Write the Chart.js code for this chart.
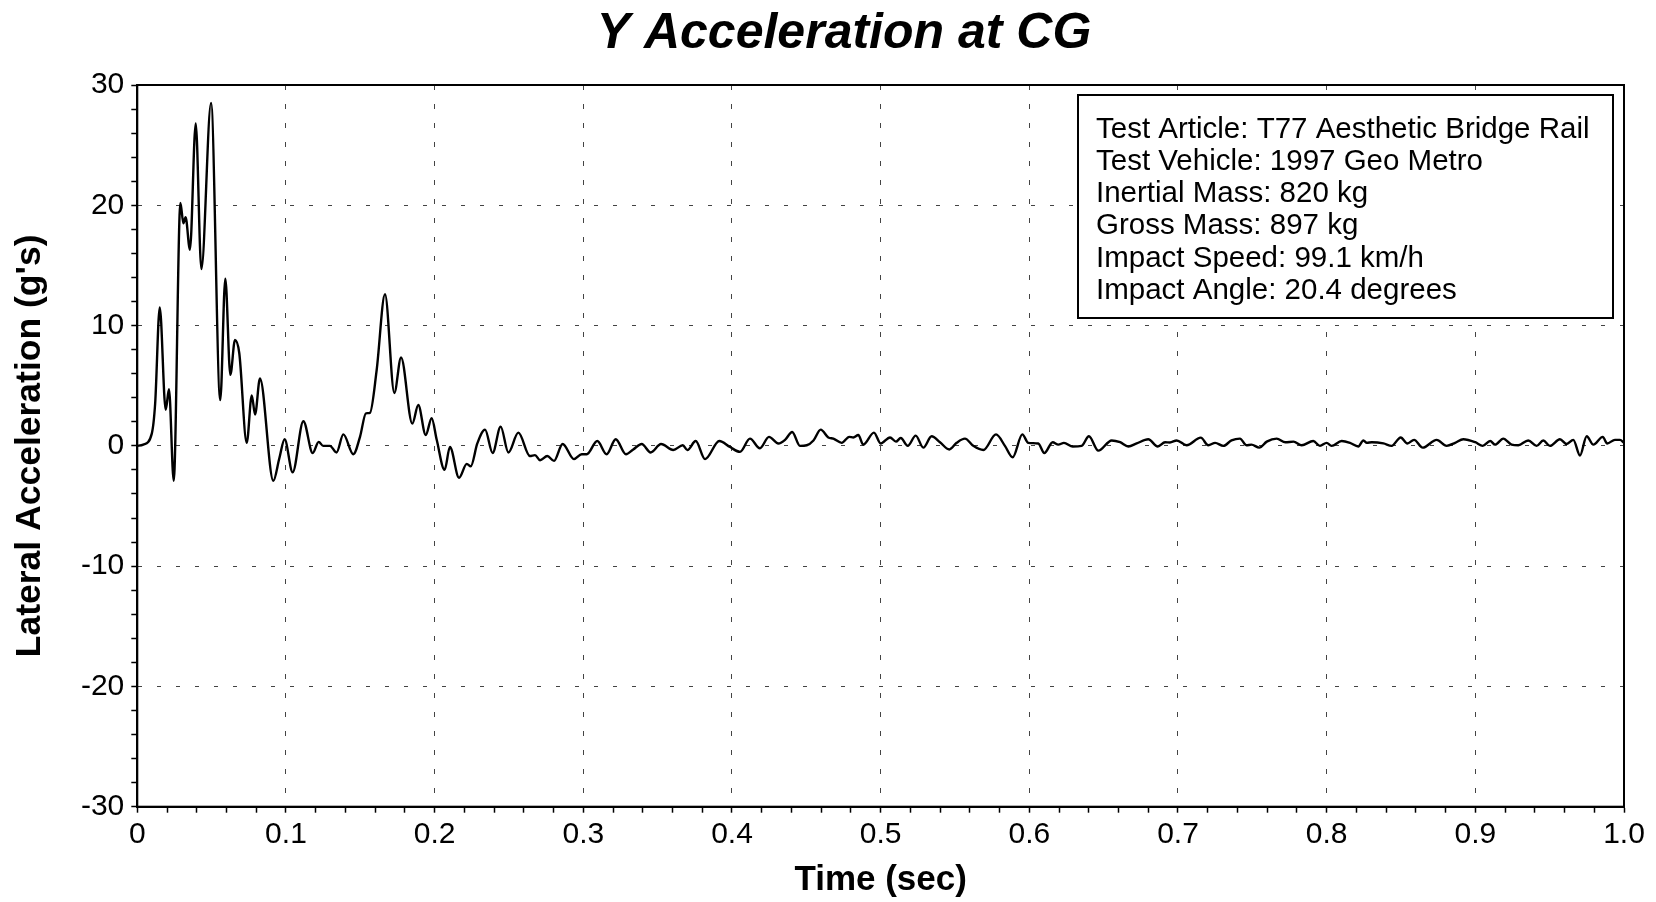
<!DOCTYPE html>
<html>
<head>
<meta charset="utf-8">
<title>Y Acceleration at CG</title>
<script src="https://cdn.jsdelivr.net/npm/chart.js@4.4.1/dist/chart.umd.min.js"></script>
<style>
    html, body { margin: 0; padding: 0; background: #ffffff; }
    #chart-wrap { width: 1656px; height: 902px; }
</style>
</head>
<body>
<div id="chart-wrap"><canvas id="accelChart" width="1656" height="902"></canvas></div>
<script>
// Time (sec) of each sample
const timeSec = [
    0, 0.004, 0.0097, 0.012, 0.0151, 0.0191, 0.0213, 0.0245, 0.029, 0.031,
    0.0325, 0.0354, 0.0393, 0.0431, 0.0496, 0.0558, 0.0592, 0.0626, 0.0657, 0.0686,
    0.0736, 0.077, 0.0792, 0.0825, 0.0915, 0.0955, 0.0991, 0.1045, 0.1117, 0.118,
    0.122, 0.125, 0.1296, 0.134, 0.1386, 0.1453, 0.1498, 0.1538, 0.1565, 0.161,
    0.1666, 0.1729, 0.1774, 0.185, 0.189, 0.194, 0.198, 0.2014, 0.2067, 0.2103,
    0.2164, 0.2216, 0.2243, 0.2287, 0.2339, 0.239, 0.2444, 0.2496, 0.2563, 0.2641,
    0.2675, 0.2709, 0.2758, 0.2803, 0.2861, 0.2937, 0.2989, 0.3023, 0.3094, 0.3157,
    0.3218, 0.3287, 0.3336, 0.3393, 0.3453, 0.3523, 0.3605, 0.3669, 0.37, 0.3756,
    0.3819, 0.3915, 0.3987, 0.4054, 0.4121, 0.4188, 0.4249, 0.4312, 0.4357, 0.4405,
    0.4457, 0.4503, 0.4548, 0.4597, 0.4648, 0.4682, 0.4738, 0.4789, 0.4816, 0.485,
    0.4883, 0.4955, 0.5, 0.5063, 0.5103, 0.5135, 0.5182, 0.5236, 0.5287, 0.5343,
    0.5399, 0.5462, 0.5511, 0.5567, 0.5623, 0.5691, 0.5776, 0.5836, 0.5888, 0.5953,
    0.5993, 0.606, 0.6101, 0.6157, 0.6195, 0.6233, 0.6292, 0.6352, 0.6401, 0.6464,
    0.6554, 0.6611, 0.6666, 0.6722, 0.68, 0.6864, 0.6913, 0.6946, 0.6991, 0.7058,
    0.7153, 0.7204, 0.725, 0.7305, 0.736, 0.7417, 0.746, 0.7494, 0.7547, 0.7597,
    0.7664, 0.7722, 0.7777, 0.7832, 0.791, 0.7955, 0.8, 0.8033, 0.8101, 0.8157,
    0.8213, 0.8247, 0.827, 0.8304, 0.8382, 0.8437, 0.8498, 0.8543, 0.8588, 0.8646,
    0.874, 0.8807, 0.8864, 0.8919, 0.9, 0.905, 0.91, 0.9133, 0.9188, 0.9244,
    0.9289, 0.9356, 0.9412, 0.9457, 0.9502, 0.9569, 0.9614, 0.9659, 0.9704, 0.9749,
    0.9794, 0.9857, 0.9887, 0.9939, 0.9973, 1.0
];

// Lateral acceleration (g's) at each sample
const accelG = [
    0, 0.1, 1.0, 3.5, 11.5, 3.0, 4.7, -2.9, 20.2, 18.5,
    19.0, 16.3, 26.8, 14.7, 28.5, 3.8, 13.9, 5.9, 8.8, 7.7,
    0.25, 4.2, 2.6, 5.6, -2.9, -1.05, 0.55, -2.2, 2.05, -0.6,
    0.33, 0, 0, -0.55, 0.95, -0.7, 0.75, 2.7, 2.75, 6.3,
    12.6, 4.4, 7.35, 1.85, 3.4, 0.9, 2.3, 0.5, -2.0, -0.1,
    -2.65, -1.5, -1.7, 0.2, 1.35, -0.6, 1.6, -0.55, 1.1, -0.85,
    -0.77, -1.2, -0.85, -1.25, 0.15, -1.1, -0.7, -0.7, 0.4, -0.7,
    0.55, -0.7, -0.3, 0.15, -0.55, 0.15, -0.35, 0.05, -0.35, 0.4,
    -1.1, 0.4, -0.1, -0.5, 0.6, -0.2, 0.75, 0.2, 0.5, 1.15,
    0, 0.05, 0.45, 1.35, 0.7, 0.6, 0.25, 0.75, 0.7, 0.9,
    0.1, 1.1, 0.2, 0.7, 0.35, 0.65, 0, 0.85, -0.15, 0.8,
    0.3, -0.3, 0.25, 0.6, 0, -0.35, 0.95, 0, -0.95, 0.95,
    0.25, 0.2, -0.6, 0.3, 0.1, 0.25, -0.05, 0, 0.8, -0.4,
    0.45, 0.3, -0.05, 0.2, 0.55, -0.05, 0.3, 0.28, 0.45, 0.05,
    0.68, 0.05, 0.25, 0, 0.45, 0.6, 0.05, 0.1, -0.15, 0.35,
    0.6, 0.3, 0.35, 0.05, 0.4, 0, 0.25, 0, 0.4, 0.25,
    -0.05, 0.45, 0.25, 0.3, 0.2, 0, 0.7, 0.2, 0.5, -0.15,
    0.5, 0, 0.25, 0.55, 0.3, 0, 0.4, 0.1, 0.6, 0.1,
    0.05, 0.45, 0, 0.45, 0, 0.55, 0.15, 0.5, -0.8, 0.8,
    0.1, 0.75, 0.2, 0.5, 0.5, 0.25
];

// Axis ticks: labelled majors, unlabelled minors in between
const xMajorTicks = [0, 0.1, 0.2, 0.3, 0.4, 0.5, 0.6, 0.7, 0.8, 0.9, 1.0];
const xTickLabels = ['0', '0.1', '0.2', '0.3', '0.4', '0.5', '0.6', '0.7', '0.8', '0.9', '1.0'];
const xMinorStep = 0.02;
const yMajorTicks = [-30, -20, -10, 0, 10, 20, 30];
const yTickLabels = ['-30', '-20', '-10', '0', '10', '20', '30'];
const yMinorStep = 2;

// Test details shown in the box
const testInfo = [
    'Test Article: T77 Aesthetic Bridge Rail',
    'Test Vehicle: 1997 Geo Metro',
    'Inertial Mass: 820 kg',
    'Gross Mass: 897 kg',
    'Impact Speed: 99.1 km/h',
    'Impact Angle: 20.4 degrees'
];

const FONT = "'Liberation Sans', Arial, Helvetica, sans-serif";

function tickIndex(list, value) {
    return list.findIndex(v => Math.abs(v - value) < 1e-9);
}

// builds major + minor tick objects between the first and last major
function buildTicks(majors, step) {
    const lo = majors[0];
    const hi = majors[majors.length - 1];
    const n = Math.round((hi - lo) / step);
    const ticks = [];
    for (let i = 0; i <= n; i++) {
        const v = Math.round((lo + i * step) * 1e6) / 1e6;
        ticks.push({ value: v, major: tickIndex(majors, v) >= 0 });
    }
    return ticks;
}

function isMajor(ctx) {
    return ctx.tick && ctx.tick.major;
}

// Frame around the plot and the test info box
const framePlugin = {
    id: 'frameAndInfo',
    afterDraw(chart) {
        const { ctx, chartArea: a } = chart;
        ctx.save();
        ctx.strokeStyle = '#000';
        ctx.lineWidth = 2;
        ctx.strokeRect(a.left, a.top, a.right - a.left, a.bottom - a.top);

        // info box in the upper right
        const boxW = 535, boxH = 223;
        const bx = a.right - 546;
        const by = a.top + 10;
        ctx.fillStyle = '#fff';
        ctx.fillRect(bx, by, boxW, boxH);
        ctx.strokeRect(bx, by, boxW, boxH);

        ctx.fillStyle = '#000';
        ctx.font = '29.5px ' + FONT;
        ctx.textAlign = 'left';
        ctx.textBaseline = 'alphabetic';
        testInfo.forEach((line, i) => {
            ctx.fillText(line, bx + 18, by + 42.5 + i * 32.3);
        });
        ctx.restore();
    }
};

document.addEventListener('DOMContentLoaded', function() {
    const ctx = document.getElementById('accelChart').getContext('2d');
    new Chart(ctx, {
        type: 'line',
        data: {
            datasets: [{
                label: 'Y Acceleration',
                data: timeSec.map((t, i) => ({ x: t, y: accelG[i] })),
                borderColor: '#000',
                borderWidth: 2.4,
                pointRadius: 0,
                cubicInterpolationMode: 'monotone',
                fill: false
            }]
        },
        options: {
            responsive: false,
            animation: false,
            layout: { padding: { left: 32, right: 0, top: 0, bottom: 0 } },
            plugins: {
                legend: { display: false },
                tooltip: { enabled: false },
                title: {
                    display: true,
                    text: 'Y Acceleration at CG',
                    color: '#000',
                    font: { family: FONT, size: 50, weight: 'bold', style: 'italic', lineHeight: 1.2 },
                    padding: { top: 4, bottom: 21 }
                }
            },
            scales: {
                x: {
                    type: 'linear',
                    min: 0,
                    max: 1,
                    afterBuildTicks: scale => { scale.ticks = buildTicks(xMajorTicks, xMinorStep); },
                    afterFit: scale => { scale.height = 95.3; },
                    ticks: {
                        autoSkip: false,
                        maxRotation: 0,
                        padding: 4,
                        color: '#000',
                        font: { family: FONT, size: 30 },
                        callback: value => {
                            const i = tickIndex(xMajorTicks, value);
                            return i >= 0 ? xTickLabels[i] : '';
                        }
                    },
                    grid: {
                        color: c => isMajor(c) ? '#444' : 'rgba(0,0,0,0)',
                        lineWidth: 1,
                        tickLength: 6,
                        tickColor: '#000',
                        tickWidth: 1.5
                    },
                    border: { display: true, color: '#000', width: 2, dash: [5, 14] },
                    title: {
                        display: true,
                        text: 'Time (sec)',
                        color: '#000',
                        font: { family: FONT, size: 35, weight: 'bold', lineHeight: 1.2 },
                        padding: { top: 0, bottom: 1 }
                    }
                },
                y: {
                    type: 'linear',
                    min: -30,
                    max: 30,
                    afterBuildTicks: scale => { scale.ticks = buildTicks(yMajorTicks, yMinorStep); },
                    afterFit: scale => { scale.width = 105.3; },
                    ticks: {
                        autoSkip: false,
                        padding: 7,
                        color: '#000',
                        font: { family: FONT, size: 30 },
                        callback: value => {
                            const i = tickIndex(yMajorTicks, value);
                            return i >= 0 ? yTickLabels[i] : '';
                        }
                    },
                    grid: {
                        color: c => isMajor(c) ? '#444' : 'rgba(0,0,0,0)',
                        lineWidth: 1,
                        tickLength: 6,
                        tickColor: '#000',
                        tickWidth: 1.5
                    },
                    border: { display: true, color: '#000', width: 2, dash: [4, 15] },
                    title: {
                        display: true,
                        text: "Lateral Acceleration (g's)",
                        color: '#000',
                        font: { family: FONT, size: 35.5, weight: 'bold', lineHeight: 1.2 },
                        padding: { top: -22.6, bottom: 0 }
                    }
                },
                // right-hand spacer so the plot ends where the frame does
                y2: {
                    type: 'linear',
                    position: 'right',
                    min: -30,
                    max: 30,
                    afterFit: scale => { scale.width = 32; },
                    ticks: { display: false },
                    grid: { drawOnChartArea: false, drawTicks: false },
                    border: { display: false }
                }
            }
        },
        plugins: [framePlugin]
    });
});
</script>
</body>
</html>
